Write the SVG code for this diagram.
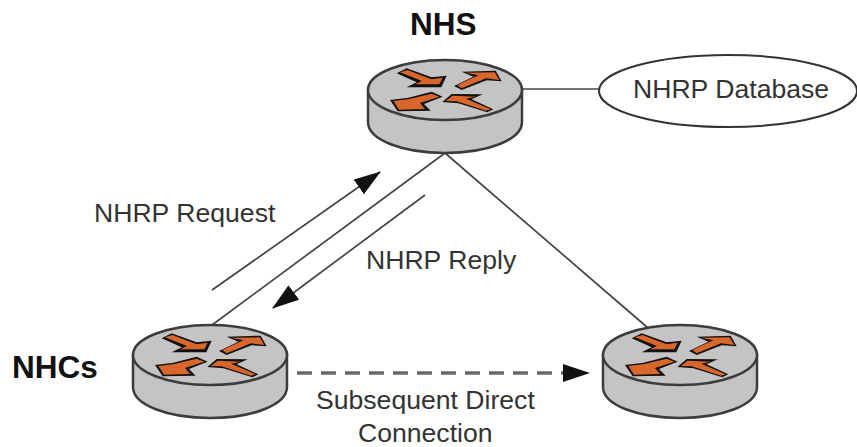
<svg xmlns="http://www.w3.org/2000/svg" xmlns:xlink="http://www.w3.org/1999/xlink" width="857" height="447" viewBox="0 0 857 447">
<style>
text{font-family:"Liberation Sans",Arial,sans-serif;fill:#333}
.l{font-size:26.6px}
.b{font-size:31.5px;font-weight:bold;fill:#111}
.c{stroke:#444;stroke-width:1.7;fill:none}
.d{stroke:#6a6a6a;stroke-width:3.5;stroke-dasharray:15 9;fill:none}
.body{fill:#c4c4c4;stroke:#3c3c3c;stroke-width:2.5}
.k{fill:#111}
.o{fill:#d9662a}
</style>
<defs>
<marker id="ah" markerUnits="userSpaceOnUse" markerWidth="28" markerHeight="20" refX="26" refY="9" orient="auto"><path d="M0 0L27 9L0 18z" fill="#111"/></marker>
<g id="router">
<path class="body" d="M-77 0V32C-77 50-42 63 0 63S77 50 77 32V0z"/>
<ellipse class="body" cx="0" cy="0" rx="77" ry="30"/>
<g transform="scale(.3333) translate(-285,-150)">
<path class="k" d="M140 100L170 85L245 112L290 107L274 142L170 142L200 127z"/>
<path class="o" d="M150 97L172 90L245 118L278 113L268 133L195 133L216 123z"/>
<path class="k" d="M335 95L437 92L455 124L410 121L335 150L312 138L370 110z"/>
<path class="o" d="M347 98L434 97L448 120L408 115L335 145L322 135L385 106z"/>
<path class="k" d="M120 180L175 173L245 155L278 170L222 192L242 212L143 214z"/>
<path class="o" d="M130 183L178 177L245 161L268 170L210 189L225 207L147 209z"/>
<path class="k" d="M277 186L305 162L398 163L365 178L430 208L412 217L325 190z"/>
<path class="o" d="M287 183L308 167L378 170L348 176L422 208L408 212L320 184z"/>
</g>
</g>
</defs>
<g id="connectors">
<path class="c" d="M522 89H600"/>
<path class="c" d="M445 153L212 325"/>
<path class="c" d="M445 153L648 328"/>
<path class="c" d="M212 290L380 172" marker-end="url(#ah)"/>
<path class="c" d="M425 195L273 308" marker-end="url(#ah)"/>
<path class="d" d="M297 373H565"/>
<path d="M563 364L590 373L563 382z" fill="#111"/>
</g>
<g id="nhs"><use xlink:href="#router" href="#router" x="445" y="90"/><text class="b" x="410" y="35">NHS</text></g>
<g id="nhc-left"><use xlink:href="#router" href="#router" x="210" y="355"/><text class="b" x="12" y="378">NHCs</text></g>
<g id="nhc-right"><use xlink:href="#router" href="#router" x="680" y="355"/></g>
<g id="database"><ellipse cx="728" cy="91" rx="129" ry="36" fill="#fff" stroke="#333" stroke-width="2"/><text class="l" x="633" y="98">NHRP Database</text></g>
<text class="l" x="94" y="222">NHRP Request</text>
<text class="l" x="366" y="269">NHRP Reply</text>
<text class="l" x="316" y="409">Subsequent Direct</text>
<text class="l" x="358" y="442">Connection</text>
</svg>
